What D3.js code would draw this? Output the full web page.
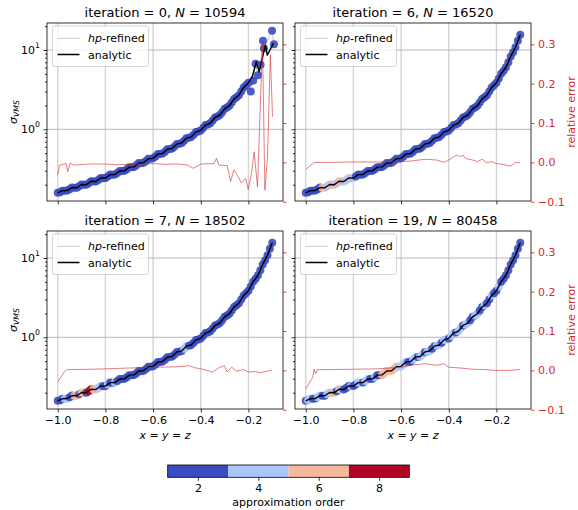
<!doctype html>
<html lang="en">
<head>
<meta charset="UTF-8">
<script src="https://cdnjs.cloudflare.com/ajax/libs/d3/7.8.5/d3.min.js"></script>
<title>hp-refined vs analytic</title>
<style>
  body { margin: 0; background: #fff; }
  svg text { font-family: "DejaVu Sans", sans-serif; }
</style>
</head>
<body>
<div id="chart"></div>
<script>
// sample positions along the diagonal x = y = z
const xs = [-1.00, -0.98, -0.96, -0.94, -0.92, -0.90, -0.88, -0.86, -0.84, -0.82,
            -0.80, -0.78, -0.76, -0.74, -0.72, -0.70, -0.68, -0.66, -0.64, -0.62,
            -0.60, -0.58, -0.56, -0.54, -0.52, -0.50, -0.48, -0.46, -0.44, -0.42,
            -0.40, -0.38, -0.36, -0.34, -0.32, -0.30, -0.28, -0.26, -0.24, -0.22,
            -0.20, -0.18, -0.16, -0.14, -0.12, -0.10];
// sigma_VMS
const sigma = [0.158, 0.168, 0.169, 0.184, 0.183, 0.201, 0.200, 0.221, 0.219, 0.243,
               0.242, 0.268, 0.268, 0.298, 0.299, 0.333, 0.335, 0.375, 0.378, 0.425,
               0.430, 0.486, 0.494, 0.561, 0.573, 0.654, 0.672, 0.773, 0.800, 0.927,
               0.968, 1.13, 1.19, 1.41, 1.51, 1.81, 1.98, 2.41, 2.69, 3.37,
               3.87, 5.03, 6.05, 8.30, 10.8, 15.6];
// extra hp points between the samples above
const xsMid = [-0.99, -0.97, -0.95, -0.93, -0.91, -0.89, -0.87, -0.85, -0.83, -0.81,
               -0.79, -0.77, -0.75, -0.73, -0.71, -0.69, -0.67, -0.65, -0.63, -0.61,
               -0.59, -0.57, -0.55, -0.53, -0.51, -0.49, -0.47, -0.45, -0.43, -0.41,
               -0.39, -0.37, -0.35, -0.33, -0.31, -0.29, -0.27, -0.25, -0.23, -0.21,
               -0.19, -0.17, -0.15, -0.13, -0.11];
const sigmaMid = [0.161, 0.168, 0.175, 0.183, 0.191, 0.200, 0.209, 0.219, 0.229, 0.241,
                  0.253, 0.267, 0.281, 0.297, 0.313, 0.332, 0.352, 0.374, 0.398, 0.425,
                  0.454, 0.486, 0.522, 0.563, 0.608, 0.658, 0.715, 0.780, 0.855, 0.940,
                  1.04, 1.15, 1.29, 1.45, 1.64, 1.88, 2.17, 2.53, 2.99, 3.58,
                  4.38, 5.47, 7.02, 9.35, 13.1];

// iteration 0 is coarse: its last points scatter
const hpTailX0 = [-0.19, -0.18, -0.17, -0.16, -0.149, -0.139, -0.135, -0.101, -0.093];
const hpTailY0 = [3.0, 4.1, 6.7, 4.8, 6.5, 13.1, 10.5, 17.5, 11.8];
const exTailX0 = [-0.184, -0.167, -0.155, -0.129, -0.121, -0.095];
const exTailY0 = [4.6, 7.1, 5.3, 11.5, 8.6, 12.2];

// approximation order of each point
const orders0 = [2,2,2,2,2,2,2,2,2,2, 2,2,2,2,2,2,2,2,2,2, 2,2,2,2,2,2,2,2,2,2,
                 2,2,2,2,2,2,2,2,2,2, 2,2,2,2,2,2,2,2,2,2];
const orders0Mid = [2,2,2,2,2,2,2,2,2,2, 2,2,2,2,2,2,2,2,2,2, 2,2,2,2,2,2,2,2,2,2,
                    2,2,2,2,2,2,2,2,2,2];
const orders6 = [2,2,2,2,6,4,6,6,4,6, 4,2,2,2,2,2,2,2,2,2, 2,2,2,2,2,2,2,2,2,2,
                 2,2,2,2,2,2,2,2,2,2, 2,2,2,2,2,2];
const orders6Mid = [2,2,2,6,4,6,4,6,4,4, 2,2,2,2,2,2,2,2,2,2, 2,2,2,2,2,2,2,2,2,2,
                    2,2,2,2,2,2,2,2,2,2, 2,2,2,2,2];
const orders7 = [2,2,4,2,6,6,2,8,6,4, 2,2,4,2,2,2,2,2,2,2, 2,2,2,2,2,2,2,4,2,2,
                 2,2,2,2,2,2,2,2,2,2, 2,2,2,2,2,2];
const orders7Mid = [2,4,2,6,2,6,8,6,4,2, 4,2,2,2,2,2,2,2,2,2, 2,2,2,2,2,2,4,2,2,2,
                    2,2,2,2,2,2,2,2,2,2, 2,2,2,2,2];
const orders19 = [2,4,2,4,2,4,6,6,2,2, 2,4,2,4,2,2,6,6,6,6, 4,4,2,4,4,2,4,2,4,4,
                  2,4,4,2,4,2,4,2,2,4, 2,2,2,2,2,2];
const orders19Mid = [4,2,4,2,4,6,2,4,2,4, 2,4,4,2,4,2,6,6,6,4, 4,2,4,2,4,4,2,4,2,4,
                     4,2,4,4,2,4,2,4,2,2, 4,2,2,2,2];

// relative error (right axis)
const errX0 = [-1.0, -0.993, -0.965, -0.958, -0.948, -0.934, -0.894, -0.85, -0.8, -0.75,
               -0.7, -0.65, -0.6, -0.55, -0.5, -0.46, -0.43, -0.41, -0.40, -0.345,
               -0.334, -0.324, -0.289, -0.275, -0.261, -0.244, -0.230, -0.211, -0.201, -0.187,
               -0.176, -0.162, -0.141, -0.131, -0.120, -0.108, -0.099];
const errY0 = [-0.032, -0.007, -0.003, -0.024, -0.001, -0.007, -0.005, -0.004, -0.004, -0.006,
               -0.005, -0.004, -0.003, -0.005, -0.004, -0.006, -0.015, -0.008, -0.004, -0.003,
               0.010, -0.007, -0.008, -0.049, -0.019, -0.035, -0.052, -0.041, -0.069, -0.028,
               0.027, -0.062, 0.303, -0.070, 0.014, 0.273, 0.116];
const errX6 = [-1.0, -0.965, -0.9, -0.8, -0.7, -0.6, -0.55, -0.5, -0.45, -0.42,
               -0.4, -0.38, -0.365, -0.35, -0.34, -0.33, -0.3, -0.28, -0.26, -0.24,
               -0.22, -0.2, -0.18, -0.16, -0.14, -0.12, -0.1];
const errY6 = [-0.018, 0.0, 0.0, 0.001, 0.001, 0.002, 0.004, 0.008, 0.006, 0.0,
               0.006, 0.014, 0.019, 0.014, 0.019, 0.010, 0.006, 0.002, 0.008, -0.001,
               0.002, -0.003, -0.004, -0.007, -0.009, 0.0, -0.001];
const errX7 = [-1.0, -0.97, -0.96, -0.9, -0.8, -0.7, -0.6, -0.5, -0.45, -0.42,
               -0.4, -0.35, -0.32, -0.3, -0.29, -0.27, -0.25, -0.22, -0.2, -0.17,
               -0.15, -0.13, -0.1];
const errY7 = [-0.029, -0.002, 0.002, 0.0025, 0.004, 0.006, 0.008, 0.009, 0.012, 0.006,
               0.004, -0.004, 0.008, 0.012, -0.004, 0.008, -0.002, 0.002, -0.004, -0.003,
               -0.006, -0.003, 0.001];
const errX19 = [-1.0, -0.97, -0.965, -0.958, -0.95, -0.9, -0.8, -0.7, -0.6, -0.55,
                -0.5, -0.45, -0.42, -0.4, -0.35, -0.3, -0.25, -0.2, -0.15, -0.1];
const errY19 = [-0.047, -0.017, 0.003, -0.008, 0.002, 0.002, 0.003, 0.004, 0.008, 0.014,
                0.017, 0.013, 0.017, 0.008, 0.006, 0.003, 0.002, 0.0, 0.0, 0.002];

const iterations = ["0", "6", "7", "19"];
const dofs = ["10594", "16520", "18502", "80458"];
const xTicks = [-1.0, -0.8, -0.6, -0.4, -0.2];
const yMajor = [1, 10];
const yMinor = [0.2, 0.3, 0.4, 0.5, 0.6, 0.7, 0.8, 0.9, 2, 3, 4, 5, 6, 7, 8, 9, 20];
const errTicks = [-0.1, 0.0, 0.1, 0.2, 0.3];
const orderBins = [1, 3, 5, 7, 9];
const orderTicks = [2, 4, 6, 8];
const orderColors = ["#3b4cc0", "#aac7fd", "#f7b89c", "#b40426"];

const pw = 236, ph = 178;
const red = "#d62728";

const svg = d3.select("#chart").append("svg")
    .attr("width", 578)
    .attr("height", 510);

const x = d3.scaleLinear().domain([-1.045, -0.055]).range([0, pw]);
const y = d3.scaleLog().domain([0.1245, 21.9]).range([ph, 0]);
const yErr = d3.scaleLinear().domain([-0.098, 0.354]).range([ph, 0]);
const color = d3.scaleThreshold().domain([3, 5, 7]).range(orderColors);

const head = xs.slice(0, 41), headY = sigma.slice(0, 41);
const headMid = xsMid.slice(0, 40), headMidY = sigmaMid.slice(0, 40);
const panels = [
    {left: 47, top: 23, col: 0, row: 0,
     hpX: head.concat(hpTailX0), hpY: headY.concat(hpTailY0), ord: orders0,
     midX: headMid, midY: headMidY, midOrd: orders0Mid,
     exX: head.concat(exTailX0), exY: headY.concat(exTailY0),
     errX: errX0, errY: errY0},
    {left: 295, top: 23, col: 1, row: 0,
     hpX: xs, hpY: sigma, ord: orders6, midX: xsMid, midY: sigmaMid, midOrd: orders6Mid,
     exX: xs, exY: sigma, errX: errX6, errY: errY6},
    {left: 47, top: 231, col: 0, row: 1,
     hpX: xs, hpY: sigma, ord: orders7, midX: xsMid, midY: sigmaMid, midOrd: orders7Mid,
     exX: xs, exY: sigma, errX: errX7, errY: errY7},
    {left: 295, top: 231, col: 1, row: 1,
     hpX: xs, hpY: sigma, ord: orders19, midX: xsMid, midY: sigmaMid, midOrd: orders19Mid,
     exX: xs, exY: sigma, errX: errX19, errY: errY19}
];

function styleAxis(a, col, size) {
    a.select(".domain").remove();
    a.attr("color", col);
    a.selectAll("line").attr("stroke-width", 0.8);
    a.selectAll("text").attr("font-size", size).attr("fill", col)
        .style("font-family", '"DejaVu Sans", sans-serif');
}

panels.forEach((p, k) => {
    const g = svg.append("g").attr("transform", `translate(${p.left},${p.top})`);

    // grid
    g.selectAll(".vgrid").data(xTicks).join("line")
        .attr("x1", d => x(d)).attr("x2", d => x(d))
        .attr("y1", 0).attr("y2", ph)
        .attr("stroke", "#d4d4d4").attr("stroke-width", 1.4);
    g.selectAll(".hgrid").data(yMajor).join("line")
        .attr("x1", 0).attr("x2", pw)
        .attr("y1", d => y(d)).attr("y2", d => y(d))
        .attr("stroke", "#b8b8b8").attr("stroke-width", 1);

    const hp = p.hpX.map((v, i) => ({x: v, y: p.hpY[i], o: p.ord[i]}))
        .concat(p.midX.map((v, i) => ({x: v, y: p.midY[i], o: p.midOrd[i]})))
        .sort((a, b) => a.x - b.x);
    const ex = p.exX.map((v, i) => ({x: v, y: p.exY[i]}));
    const er = p.errX.map((v, i) => ({x: v, y: p.errY[i]}));

    const line = d3.line().x(d => x(d.x)).y(d => y(d.y));

    g.append("path").datum(hp).attr("d", line)
        .attr("fill", "none").attr("stroke", "#c8c8c8").attr("stroke-width", 1);

    g.selectAll(".dot").data(hp).join("circle")
        .attr("cx", d => x(d.x)).attr("cy", d => y(d.y))
        .attr("r", 4)
        .attr("fill", d => color(d.o))
        .attr("fill-opacity", 0.9);

    g.append("path").datum(ex).attr("d", line)
        .attr("fill", "none").attr("stroke", "#000").attr("stroke-width", 1.4)
        .attr("stroke-linejoin", "round");

    // relative error on the twin axis
    g.append("path").datum(er)
        .attr("d", d3.line().x(d => x(d.x)).y(d => yErr(d.y)))
        .attr("fill", "none").attr("stroke", red).attr("stroke-width", 0.8)
        .attr("stroke-opacity", 0.75);

    // axes
    const xa = g.append("g").attr("transform", `translate(0,${ph})`)
        .call(d3.axisBottom(x).tickValues(xTicks).tickSize(3.5).tickPadding(3.5)
            .tickFormat(p.row === 1 ? d3.format(".1f") : () => ""));
    styleAxis(xa, "#000", "11px");

    const ya = g.append("g")
        .call(d3.axisLeft(y).tickValues(yMinor).tickSize(2).tickFormat(() => ""));
    styleAxis(ya, "#000", "11px");
    const yb = g.append("g")
        .call(d3.axisLeft(y).tickValues(yMajor).tickSize(3.5).tickFormat(() => ""));
    styleAxis(yb, "#000", "11px");
    if (p.col === 0) {
        const lab = g.selectAll(".ylab").data(yMajor).join("text")
            .attr("x", -7).attr("y", d => y(d)).attr("dy", "0.36em")
            .attr("text-anchor", "end").attr("font-size", "11px");
        lab.append("tspan").text("10");
        lab.append("tspan").attr("font-size", "7.7px").attr("dy", "-0.75em")
            .text(d => Math.round(Math.log10(d)));
    }

    const ra = g.append("g").attr("transform", `translate(${pw},0)`)
        .call(d3.axisRight(yErr).tickValues(errTicks).tickSize(3.5).tickPadding(3.5)
            .tickFormat(p.col === 1 ? d3.format(".1f") : () => ""));
    styleAxis(ra, red, "11px");

    // frame
    g.append("rect").attr("width", pw).attr("height", ph)
        .attr("fill", "none").attr("stroke", "#000").attr("stroke-width", 0.8);

    // legend
    const lg = g.append("g");
    lg.append("rect").attr("x", 5.5).attr("y", 3).attr("width", 96).attr("height", 40.5)
        .attr("rx", 2.5).attr("fill", "#fff").attr("fill-opacity", 0.8)
        .attr("stroke", "#cccccc").attr("stroke-width", 0.8);
    lg.append("line").attr("x1", 10.5).attr("x2", 32.5).attr("y1", 15.3).attr("y2", 15.3)
        .attr("stroke", "#c8c8c8").attr("stroke-width", 1);
    lg.append("line").attr("x1", 10.5).attr("x2", 32.5).attr("y1", 31.5).attr("y2", 31.5)
        .attr("stroke", "#000").attr("stroke-width", 1.5);
    const t1 = lg.append("text").attr("x", 41).attr("y", 19.3).attr("font-size", "11px");
    t1.append("tspan").attr("font-style", "italic").text("hp");
    t1.append("tspan").text("-refined");
    lg.append("text").attr("x", 41).attr("y", 35.5).attr("font-size", "11px").text("analytic");

    // title
    const tt = g.append("text").attr("x", pw / 2).attr("y", -6)
        .attr("text-anchor", "middle").attr("font-size", "13px");
    tt.append("tspan").text(`iteration = ${iterations[k]}, `);
    tt.append("tspan").attr("font-style", "italic").text("N");
    tt.append("tspan").text(` = ${dofs[k]}`);

    if (p.col === 0) {
        const yl = g.append("text")
            .attr("transform", `translate(${16.5 - p.left},${ph / 2}) rotate(-90)`)
            .attr("text-anchor", "middle").attr("font-size", "11px");
        yl.append("tspan").attr("font-style", "italic").text("σ");
        yl.append("tspan").attr("font-style", "italic").attr("font-size", "7.7px")
            .attr("dy", "0.35em").text("VMS");
    } else {
        g.append("text")
            .attr("transform", `translate(${575 - p.left},${ph / 2}) rotate(-90)`)
            .attr("text-anchor", "middle").attr("font-size", "11px")
            .attr("fill", red).text("relative error");
    }
    if (p.row === 1) {
        g.append("text").attr("x", pw / 2).attr("y", ph + 29.5)
            .attr("text-anchor", "middle").attr("font-size", "11px")
            .attr("font-style", "italic").text("x = y = z");
    }
});

// colorbar
const cx = d3.scaleLinear().domain([1, 9]).range([167.7, 409.3]);
const cb = svg.append("g").attr("transform", "translate(0,465)");
cb.selectAll("rect").data(orderColors).join("rect")
    .attr("x", (d, i) => cx(orderBins[i]))
    .attr("width", (d, i) => cx(orderBins[i + 1]) - cx(orderBins[i]))
    .attr("height", 12.3)
    .attr("fill", d => d);
cb.append("rect").attr("x", cx(1)).attr("width", cx(9) - cx(1)).attr("height", 12.3)
    .attr("fill", "none").attr("stroke", "#000").attr("stroke-width", 0.8);
const ca = cb.append("g").attr("transform", "translate(0,12.3)")
    .call(d3.axisBottom(cx).tickValues(orderTicks).tickSize(3.5).tickPadding(3.5));
styleAxis(ca, "#000", "11px");
svg.append("text").attr("x", cx(5)).attr("y", 506)
    .attr("text-anchor", "middle").attr("font-size", "11px").text("approximation order");
</script>
</body>
</html>
